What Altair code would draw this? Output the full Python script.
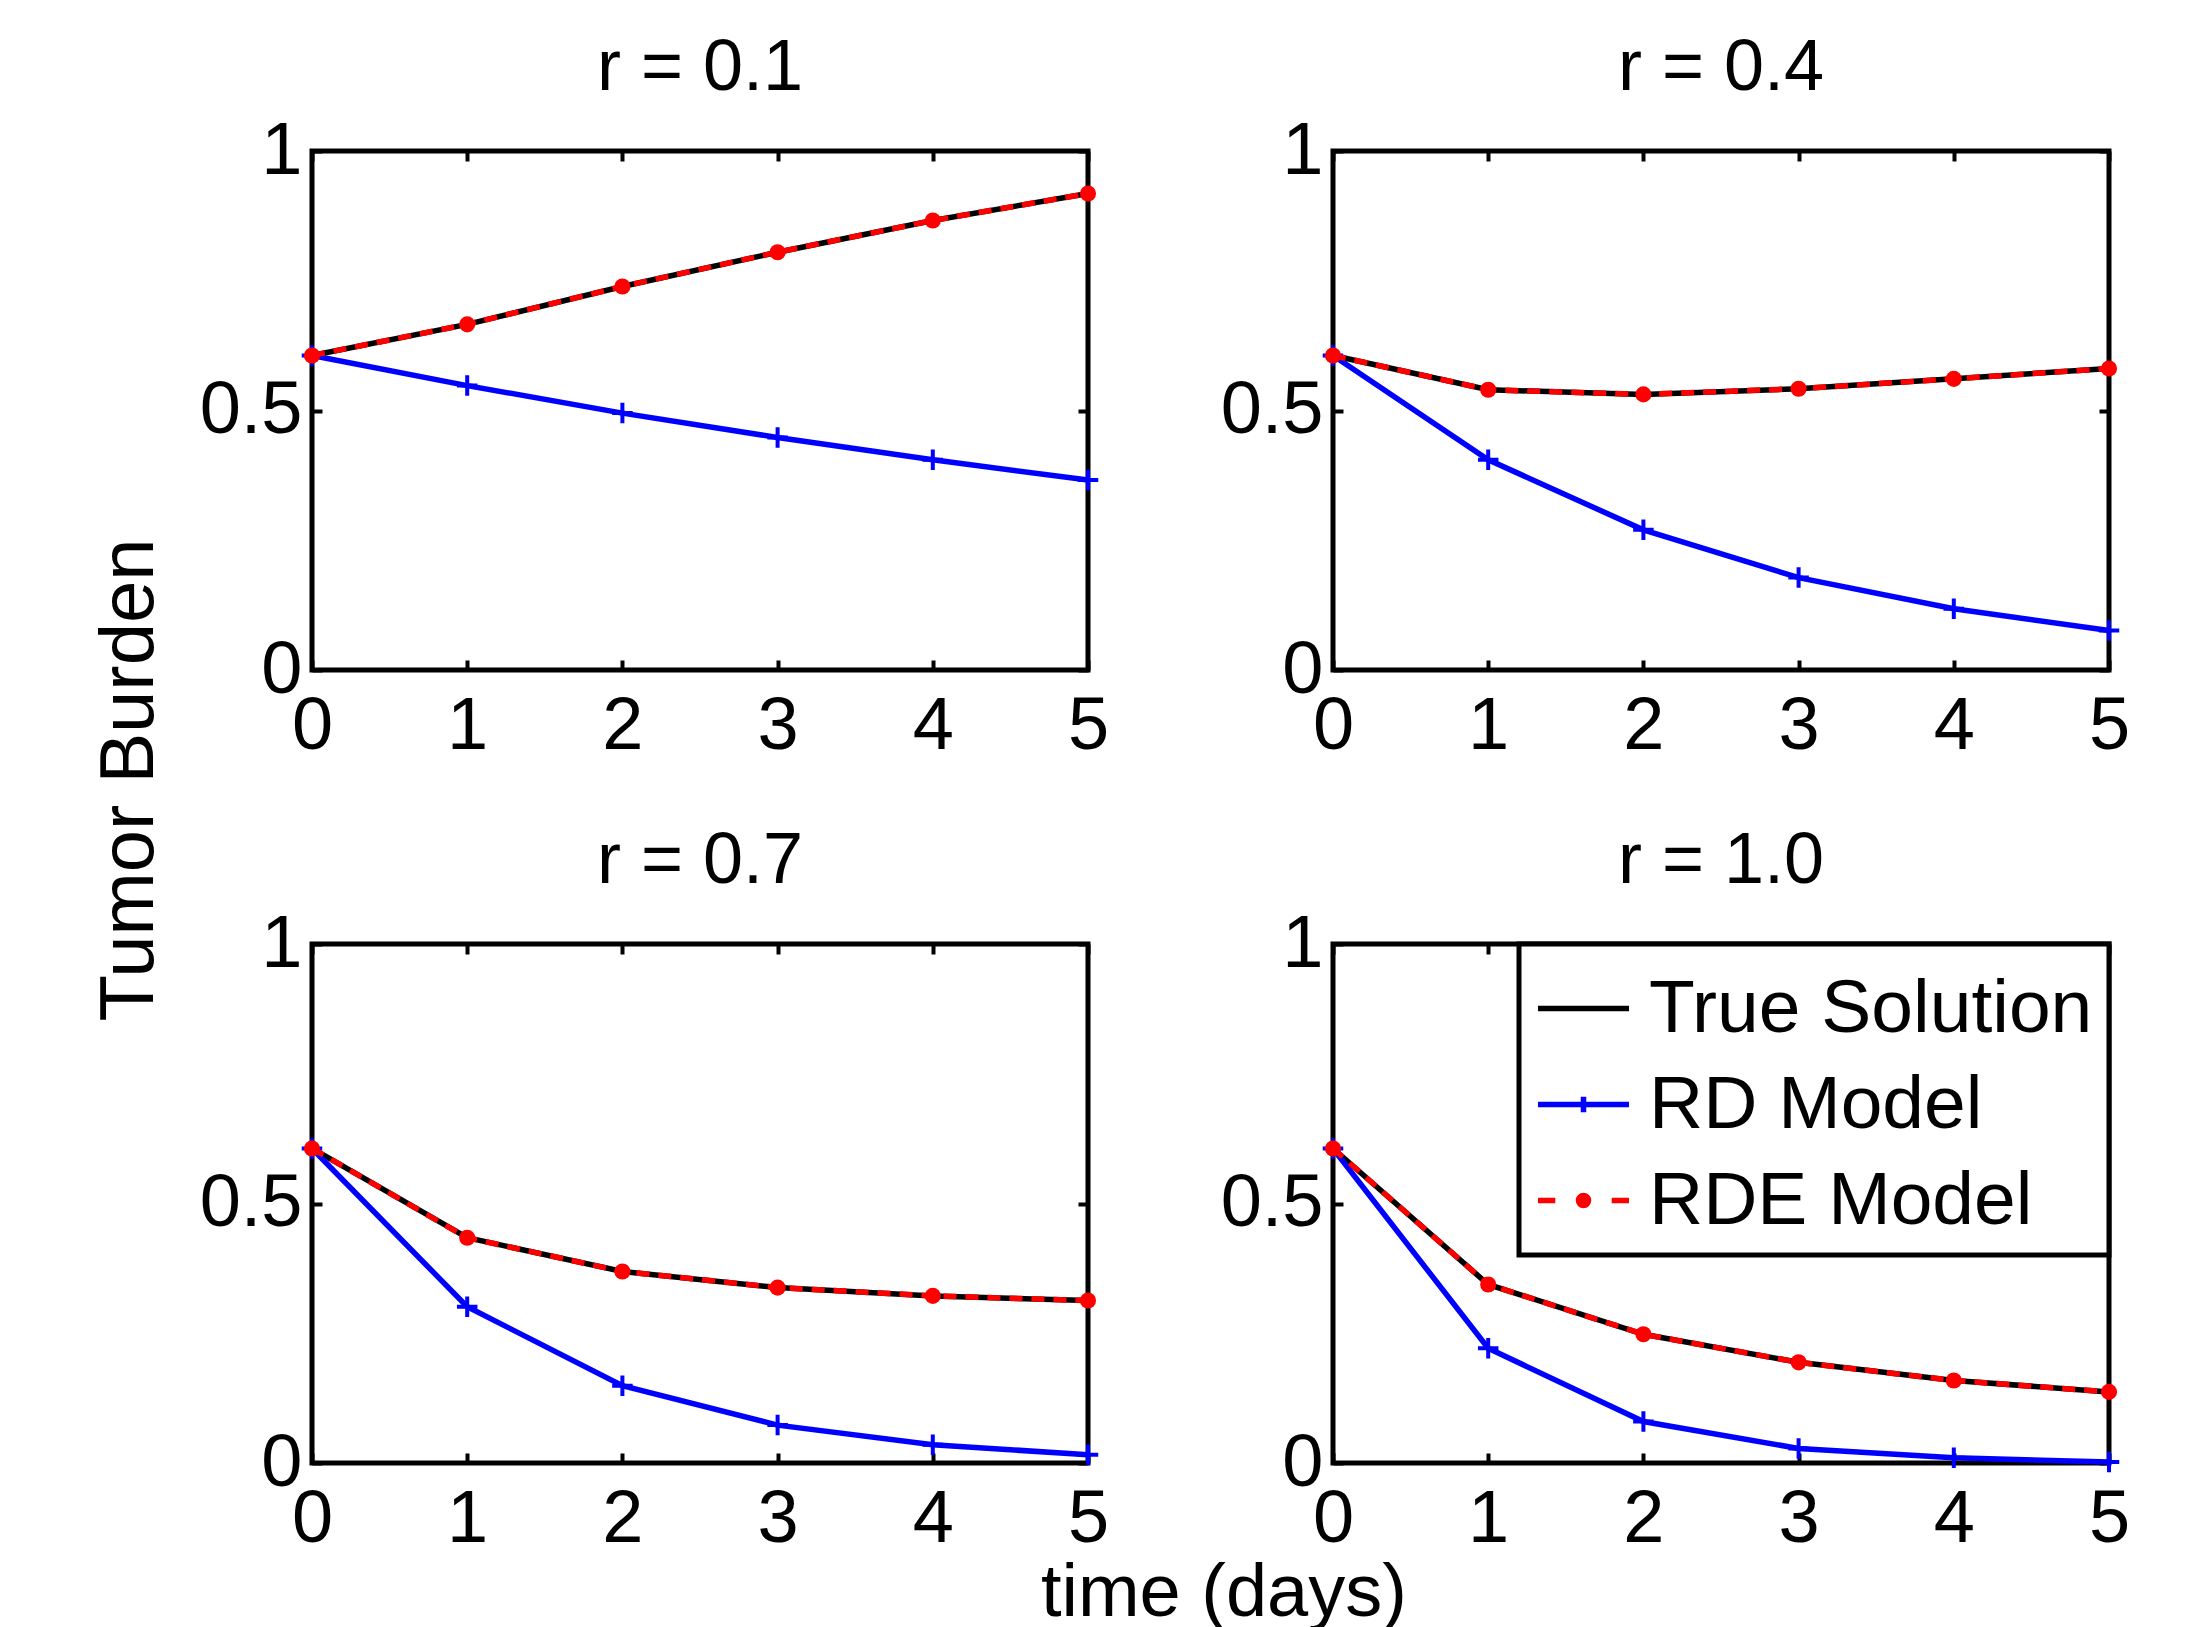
import altair as alt
import pandas as pd

# ---- data ----
t = [0, 1, 2, 3, 4, 5]
panel_titles = ["r = 0.1", "r = 0.4", "r = 0.7", "r = 1.0"]

true_r01 = [0.606, 0.666, 0.739, 0.805, 0.866, 0.918]
rde_r01 = [0.606, 0.666, 0.739, 0.805, 0.866, 0.918]
rd_r01 = [0.606, 0.548, 0.495, 0.448, 0.405, 0.366]

true_r04 = [0.606, 0.540, 0.531, 0.542, 0.561, 0.581]
rde_r04 = [0.606, 0.540, 0.531, 0.542, 0.561, 0.581]
rd_r04 = [0.606, 0.405, 0.270, 0.178, 0.118, 0.076]

true_r07 = [0.606, 0.434, 0.369, 0.338, 0.322, 0.313]
rde_r07 = [0.606, 0.434, 0.369, 0.338, 0.322, 0.313]
rd_r07 = [0.606, 0.301, 0.149, 0.073, 0.035, 0.016]

true_r10 = [0.606, 0.344, 0.248, 0.194, 0.159, 0.137]
rde_r10 = [0.606, 0.344, 0.248, 0.194, 0.159, 0.137]
rd_r10 = [0.606, 0.221, 0.080, 0.028, 0.010, 0.002]

x_ticks = [0, 1, 2, 3, 4, 5]
y_ticks = [0, 0.5, 1]

models = ["True Solution", "RD Model", "RDE Model"]
model_colors = ["black", "blue", "red"]
legend_paths = [
    "M-1,0H1",
    "M-1,0H1M0,-0.17V0.17",
    "M-1,0H-0.62M0.62,0H1M-0.11,0A0.11,0.11 0 1,1 0.11,0A0.11,0.11 0 1,1 -0.11,0Z",
]

FONT = "Liberation Sans"
PW, PH = 776, 519
LW = 5.5


def panel(title, true_v, rd_v, rde_v, with_legend=False):
    df_true = pd.DataFrame({"t": t, "v": true_v})
    df_rd = pd.DataFrame({"t": t, "v": rd_v})
    df_rde = pd.DataFrame({"t": t, "v": rde_v})

    xs = alt.Scale(domain=[0, 5], nice=False, zero=False)
    ys = alt.Scale(domain=[0, 1], nice=False, zero=False)

    x_bottom = alt.Axis(orient="bottom", values=x_ticks, format="d", offset=-10,
                        tickSize=10, labelPadding=20, title=None, labelFlush=False)
    y_left = alt.Axis(orient="left", values=y_ticks, format="~g", offset=-10,
                      tickSize=10, labelPadding=10, title=None, labelFlush=False)
    x_top = alt.Axis(orient="top", values=x_ticks, offset=-10, tickSize=10,
                     labels=False, title=None)
    y_right = alt.Axis(orient="right", values=y_ticks, offset=-10, tickSize=10,
                       labels=False, title=None)

    true_line = alt.Chart(df_true).mark_line(color="black", strokeWidth=LW).encode(
        x=alt.X("t:Q", scale=xs, axis=x_bottom),
        y=alt.Y("v:Q", scale=ys, axis=y_left),
    )
    rd_line = alt.Chart(df_rd).mark_line(color="blue", strokeWidth=LW).encode(
        x=alt.X("t:Q", scale=xs, axis=x_top),
        y=alt.Y("v:Q", scale=ys, axis=y_right),
    )
    rd_pts = alt.Chart(df_rd).mark_point(
        shape="M-1,0H1M0,-1V1", color="blue", filled=False, strokeWidth=4,
        size=420, opacity=1,
    ).encode(x=alt.X("t:Q", axis=None), y=alt.Y("v:Q", axis=None))
    rde_line = alt.Chart(df_rde).mark_line(
        color="red", strokeWidth=LW, strokeDash=[13, 9]
    ).encode(x=alt.X("t:Q", axis=None), y=alt.Y("v:Q", axis=None))
    rde_pts = alt.Chart(df_rde).mark_circle(color="red", size=260, opacity=1).encode(
        x=alt.X("t:Q", axis=None), y=alt.Y("v:Q", axis=None)
    )

    layers = [true_line, rd_line, rd_pts, rde_line, rde_pts]

    if with_legend:
        leg_df = pd.DataFrame({"model": models, "t": [0, 0, 0], "v": [0, 0, 0]})
        leg_args = dict(
            title=None, orient="top-right", offset=0, padding=16, rowPadding=9,
            labelFont=FONT, labelFontSize=75, labelColor="black", labelOffset=17,
            labelLimit=1000, symbolSize=8281, symbolStrokeWidth=LW,
            strokeColor="black", fillColor="white",
        )
        leg = alt.Chart(leg_df).transform_filter("datum.t < 0").mark_point(
            filled=True, opacity=1
        ).encode(
            x=alt.X("t:Q", axis=None),
            y=alt.Y("v:Q", axis=None),
            shape=alt.Shape("model:N", scale=alt.Scale(domain=models, range=legend_paths),
                            legend=alt.Legend(**leg_args)),
            fill=alt.Fill("model:N", scale=alt.Scale(domain=models, range=model_colors),
                          legend=alt.Legend(**leg_args)),
            stroke=alt.Stroke("model:N", scale=alt.Scale(domain=models, range=model_colors),
                              legend=alt.Legend(**leg_args)),
        )
        layers.append(leg)

    return alt.layer(*layers).resolve_axis(
        x="independent", y="independent"
    ).properties(
        width=PW, height=PH,
        title=alt.TitleParams(title, font=FONT, fontSize=72, fontWeight="normal",
                              color="black", offset=9, anchor="middle"),
    )


p1 = panel(panel_titles[0], true_r01, rd_r01, rde_r01)
p2 = panel(panel_titles[1], true_r04, rd_r04, rde_r04)
p3 = panel(panel_titles[2], true_r07, rd_r07, rde_r07)
p4 = panel(panel_titles[3], true_r10, rd_r10, rde_r10, with_legend=True)

ind = dict(shape="independent", fill="independent", stroke="independent")

grid = alt.concat(
    p1, p2, p3, p4, columns=2, spacing={"row": 274, "column": 245}, bounds="flush",
    title=alt.TitleParams("Tumor Burden", orient="left", font=FONT, fontSize=76,
                          fontWeight="normal", color="black", offset=28, anchor="middle",
                          dx=14),
).resolve_scale(**ind).resolve_legend(**ind)

chart = alt.vconcat(
    grid,
    title=alt.TitleParams("time (days)", orient="bottom", font=FONT, fontSize=74,
                          fontWeight="normal", color="black", offset=-1, anchor="middle",
                          dx=112),
).resolve_scale(**ind).resolve_legend(**ind).properties(
    padding={"left": 83, "top": 21, "right": 0, "bottom": 0},
).configure_view(
    stroke="black", strokeWidth=5
).configure_axis(
    labelFont=FONT, labelFontSize=74, labelColor="black", tickColor="black",
    tickWidth=4, domain=False, grid=False,
).configure_legend(
    strokeWidth=5
)

chart.save("out.html", embed_options={"renderer": "svg", "actions": False})
